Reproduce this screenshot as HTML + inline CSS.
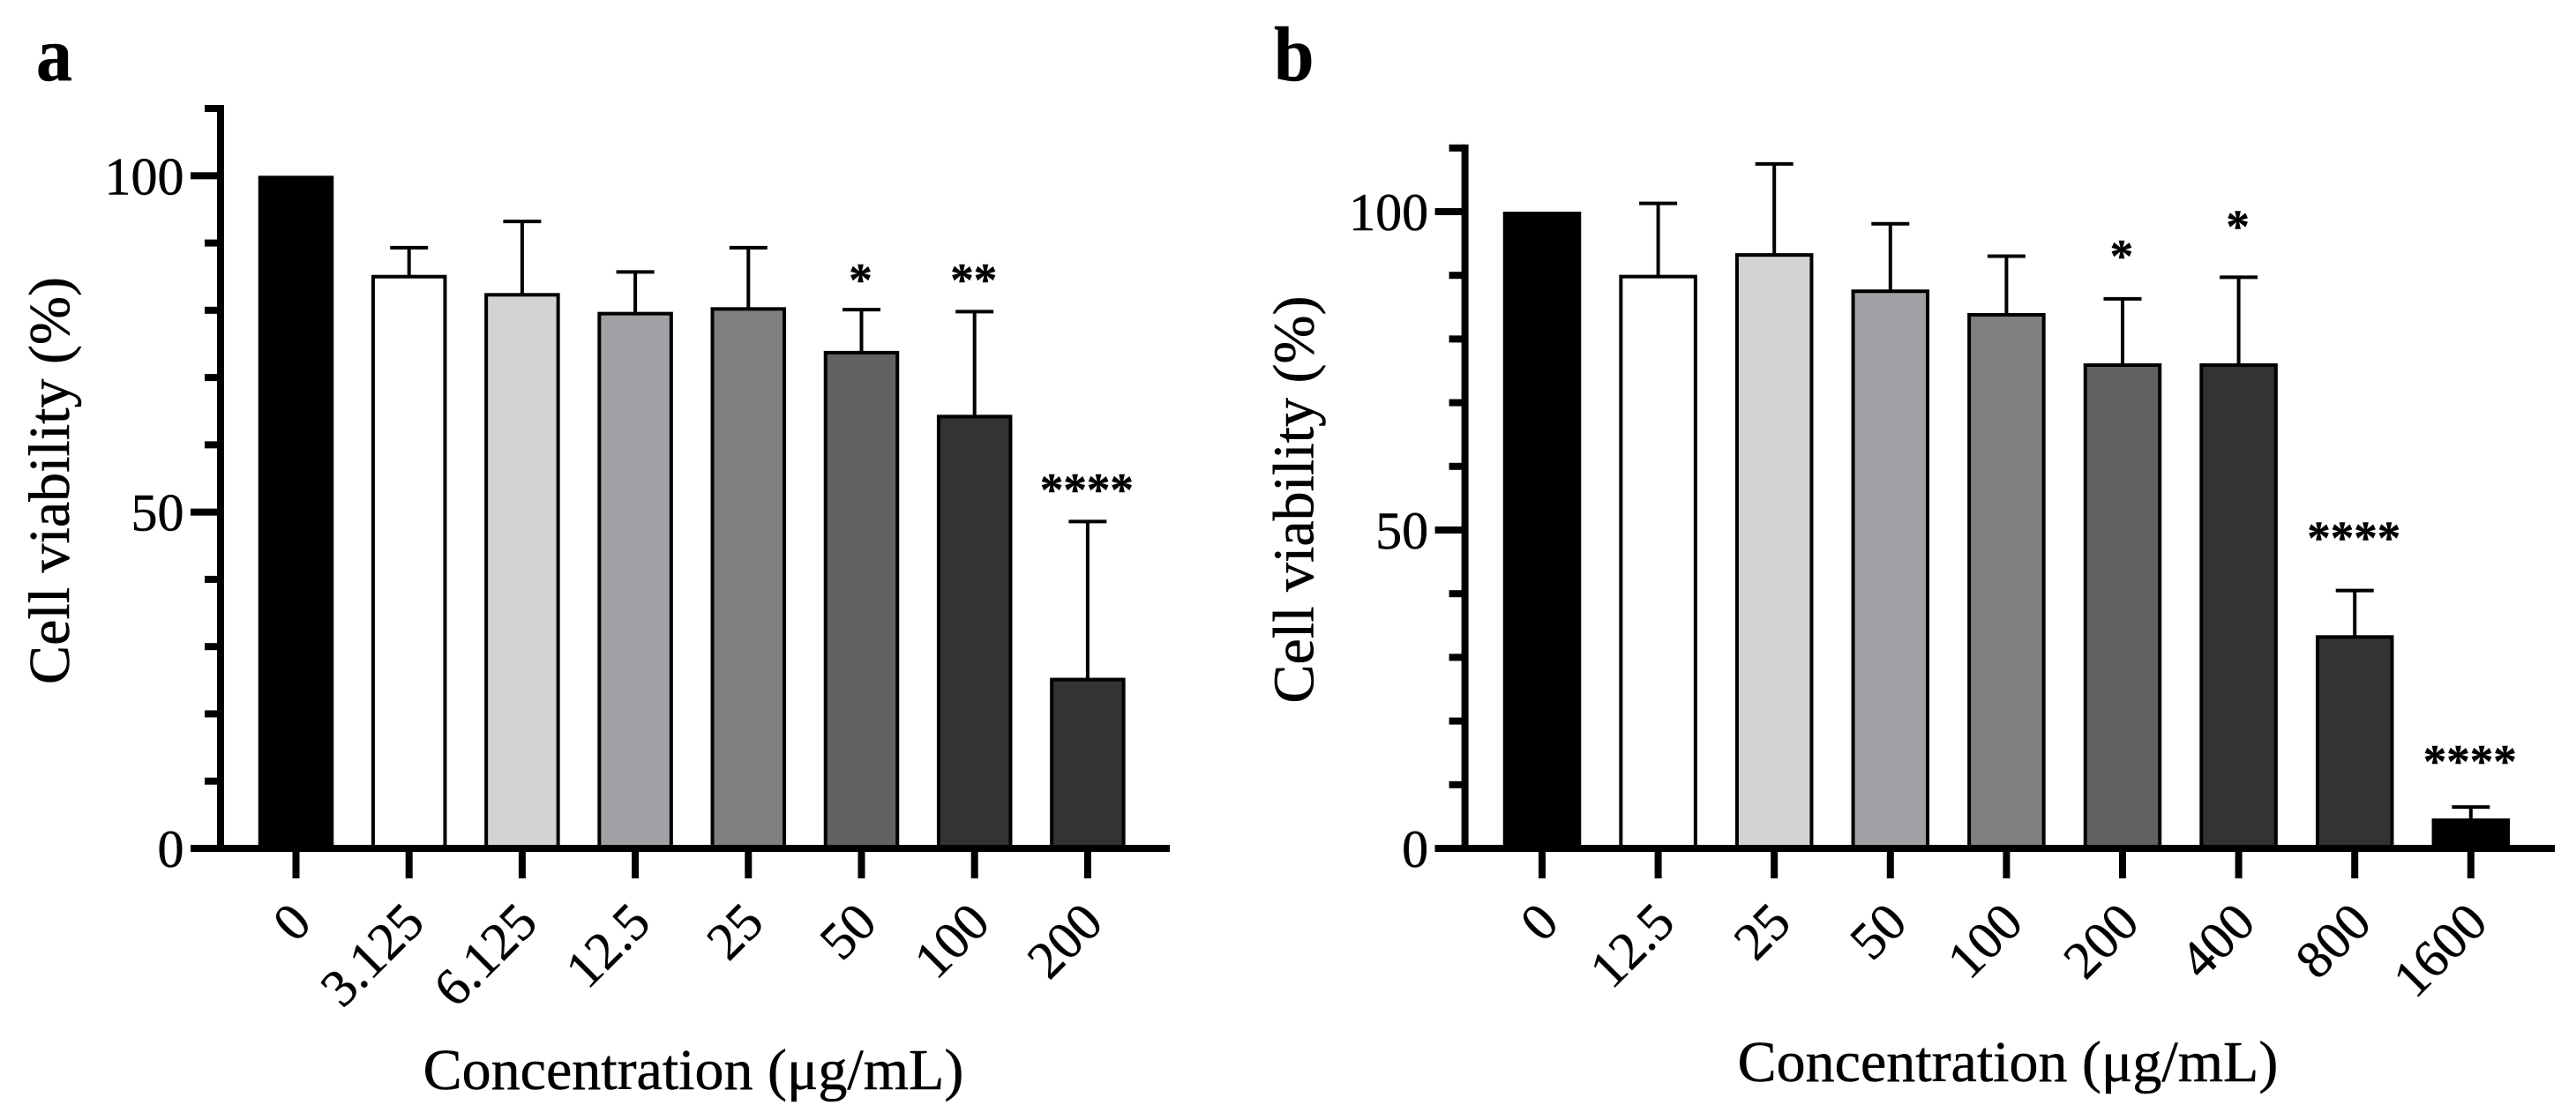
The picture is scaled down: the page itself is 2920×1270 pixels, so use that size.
<!DOCTYPE html>
<html lang="en">
<head>
<meta charset="utf-8">
<title>Cell viability charts</title>
<style>
html,body{margin:0;padding:0;background:#fff;width:2920px;height:1270px;overflow:hidden}
svg{display:block}
text{font-family:"Liberation Serif","Times New Roman",serif;fill:#000;stroke:#000;stroke-width:.5px}
</style>
</head>
<body>
<svg id="figure" xmlns="http://www.w3.org/2000/svg" width="2920" height="1270" viewBox="0 0 2920 1270">
<rect x="0" y="0" width="2920" height="1270" fill="#ffffff"/>
<text transform="translate(41 91) scale(.93 1)" font-size="88" font-weight="bold">a</text>
<text transform="translate(1444 91) scale(.93 1)" font-size="88" font-weight="bold">b</text>
</svg>
<script>
const categoriesA = ['0','3.125','6.125','12.5','25','50','100','200'];
const valuesA = [100,85,82.3,79.5,80.2,73.7,64.2,25.1];
const errorsA = [0,4.3,10.9,6.2,9.1,6.4,15.6,23.5];
const sigLabelsA = ['','','','','','*','**','****'];
const sigHeightsA = [0,0,0,0,0,82.2,82.2,51];

const categoriesB = ['0','12.5','25','50','100','200','400','800','1600'];
const valuesB = [100,89.8,93.2,87.5,83.8,75.9,75.9,33.2,4.7];
const errorsB = [0,11.5,14.3,10.6,9.2,10.4,13.8,7.3,1.8];
const sigLabelsB = ['','','','','','*','*','****','****'];
const sigHeightsB = [0,0,0,0,0,90.6,95.2,46.3,11.2];

const yMajorTicks = [0,50,100];
const yMinorTicks = [10,20,30,40,60,70,80,90,110];
const yMax = 110;

const fillsA = ['#000000','#ffffff','#d3d3d3','#a1a1a5','#808080','#616161','#333333','#333333'];
const fillsB = ['#000000','#ffffff','#d3d3d3','#a1a1a5','#808080','#616161','#333333','#333333','#000000'];

const NS = 'http://www.w3.org/2000/svg';
const svg = document.getElementById('figure');

function make(parent, tag, attrs, text) {
  const el = document.createElementNS(NS, tag);
  for (const k in attrs) el.setAttribute(k, attrs[k]);
  if (text !== undefined) el.textContent = text;
  parent.appendChild(el);
  return el;
}

function drawPanel(p) {
  const group = make(svg, 'g', {});
  
  

  const yPos = v => p.y0 - v * p.yUnit;
  const xPos = i => p.x0 + i * p.step;

  p.values.forEach((v, i) => {
    const cx = xPos(i);
    const top = yPos(v);
    const isBlack = p.fills[i] === '#000000';
    if (p.errors[i] > 0) {
      const capY = yPos(v + p.errors[i]);
      const stem = make(group, 'line', {x1: cx, x2: cx, y1: capY, y2: top, stroke: '#000', 'stroke-width': 4});
      
      
      const cap = make(group, 'line', {x1: cx - 21.5, x2: cx + 21.5, y1: capY, y2: capY, stroke: '#000', 'stroke-width': 4});
      
      
    }
    const outer = p.barWidth;
    const bar = make(group, 'rect', isBlack
      ? {x: cx - outer / 2, y: top, width: outer, height: p.y0 - top, fill: '#000'}
      : {x: cx - outer / 2 + 2, y: top, width: outer - 4, height: p.y0 - top, fill: p.fills[i], stroke: '#000', 'stroke-width': 4});
    
    

    if (p.sigLabels[i]) {
      const sig = make(group, 'text', {x: cx - 1, y: yPos(p.sigHeights[i]), 'font-size': 53, 'font-weight': 'bold', 'text-anchor': 'middle'}, p.sigLabels[i]);
      
      
    }

    const tick = make(group, 'rect', {x: cx - 4, y: p.y0, width: 8, height: 34, fill: '#000'});
    
    

    const ax = cx + p.labelDx;
    const ay = p.y0 + 87;
    const label = make(group, 'text', {x: ax, y: ay, 'font-size': 60, 'text-anchor': 'end', transform: 'rotate(-45 ' + ax + ' ' + ay + ')'}, p.categories[i]);
    
    
  });

  const yAxis = make(group, 'rect', {x: p.axisX - 4, y: yPos(yMax) - 4, width: 8, height: p.y0 - yPos(yMax) + 8, fill: '#000'});
  
  

  const xAxis = make(group, 'rect', {x: p.axisX - 34, y: p.y0 - 4, width: p.axisEnd - p.axisX + 34, height: 8, fill: '#000'});
  
  

  yMinorTicks.forEach(v => {
    const t = make(group, 'rect', {x: p.axisX - 18, y: yPos(v) - 4, width: 18, height: 8, fill: '#000'});
    
    
  });

  yMajorTicks.forEach(v => {
    const t = make(group, 'rect', {x: p.axisX - 34, y: yPos(v) - 4, width: 34, height: 8, fill: '#000'});
    
    
    const l = make(group, 'text', {x: p.axisX - 41.5, y: yPos(v) + 21, 'font-size': 60, 'text-anchor': 'end'}, String(v));
    
    
  });

  const yTitle = make(group, 'text', {x: p.yTitleX, y: p.yTitleY, 'font-size': 66, 'text-anchor': 'middle', transform: 'rotate(-90 ' + p.yTitleX + ' ' + p.yTitleY + ')'}, 'Cell viability (%)');
  
  

  const xTitle = make(group, 'text', {x: p.xTitleX, y: p.xTitleY, 'font-size': 66, 'text-anchor': 'middle'}, 'Concentration (\u03BCg/mL)');
  
  
}

drawPanel({
  id: 'a', categories: categoriesA, values: valuesA, errors: errorsA,
  sigLabels: sigLabelsA, sigHeights: sigHeightsA, fills: fillsA,
  x0: 335.5, step: 128.2, y0: 962, yUnit: 7.627, barWidth: 85.5,
  axisX: 250, axisEnd: 1326, labelDx: 20,
  yTitleX: 78, yTitleY: 545, xTitleX: 786, xTitleY: 1235
});

drawPanel({
  id: 'b', categories: categoriesB, values: valuesB, errors: errorsB,
  sigLabels: sigLabelsB, sigHeights: sigHeightsB, fills: fillsB,
  x0: 1748, step: 131.6, y0: 962, yUnit: 7.22, barWidth: 88.5,
  axisX: 1660.6, axisEnd: 2896, labelDx: 21.5,
  yTitleX: 1488.6, yTitleY: 566.5, xTitleX: 2276, xTitleY: 1226
});
</script>
</body>
</html>
